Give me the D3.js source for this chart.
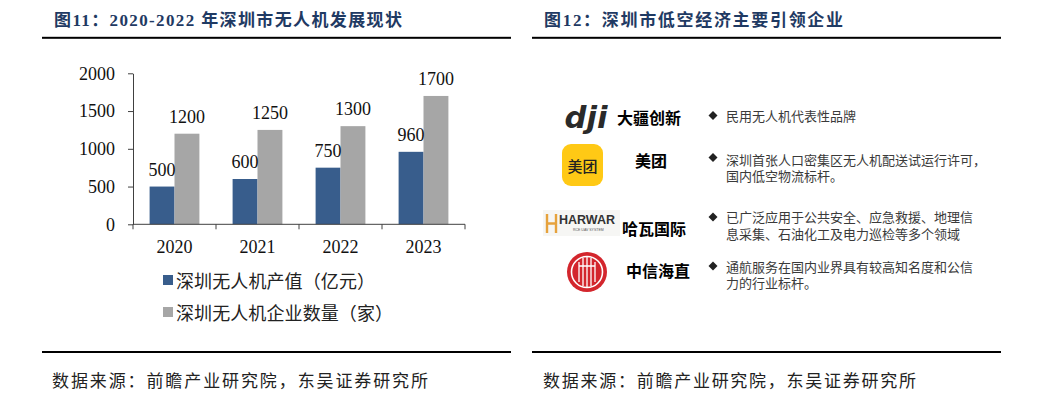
<!DOCTYPE html>
<html><head><meta charset="utf-8">
<script src="https://cdn.jsdelivr.net/npm/d3@7"></script>
<style>
html,body{margin:0;padding:0;background:#fff;}
svg{display:block;}
</style></head>
<body>
<svg id="c" width="1038" height="399"></svg>
<script>
// ---------- data ----------
const years = ["2020", "2021", "2022", "2023"];
const seriesNames = ["深圳无人机产值（亿元）", "深圳无人机企业数量（家）"];
const outputValue = [500, 600, 750, 960];        // 亿元
const enterpriseCount = [1200, 1250, 1300, 1700]; // 家
const yTicks = [0, 500, 1000, 1500, 2000];

const leftTitle = "图11：2020-2022 年深圳市无人机发展现状";
const rightTitle = "图12：深圳市低空经济主要引领企业";
const sourceText = "数据来源：前瞻产业研究院，东吴证券研究所";

const companies = ["大疆创新", "美团", "哈瓦国际", "中信海直"];
const descriptions = [
  ["民用无人机代表性品牌"],
  ["深圳首张人口密集区无人机配送试运行许可，", "国内低空物流标杆。"],
  ["已广泛应用于公共安全、应急救援、地理信", "息采集、石油化工及电力巡检等多个领域"],
  ["通航服务在国内业界具有较高知名度和公信", "力的行业标杆。"]
];

// ---------- setup ----------
const svg = d3.select("#c");
const serif = "'Liberation Serif','Times New Roman','Noto Sans CJK SC',serif";
const cjk = "'Noto Sans CJK SC','Noto Sans',sans-serif";
const titleColor = "#1f3a63";
const colors = ["#385d8c", "#a6a6a6"];

// ---------- panel frames ----------
function panel(x0, x1, title, titleX, titleLen, srcX, srcLen) {
  svg.append("text").attr("x", titleX).attr("y", 26)
    .attr("font-family", serif).attr("font-weight", "bold").attr("font-size", 17)
    .attr("fill", titleColor).attr("textLength", titleLen).attr("lengthAdjust", "spacing")
    .text(title);
  svg.append("rect").attr("x", x0).attr("y", 36.8).attr("width", x1 - x0).attr("height", 2).attr("fill", "#000");
  svg.append("rect").attr("x", x0).attr("y", 351).attr("width", x1 - x0).attr("height", 2).attr("fill", "#000");
  svg.append("text").attr("x", srcX).attr("y", 379).attr("dominant-baseline", "central")
    .attr("font-family", cjk).attr("font-size", 17).attr("fill", "#222")
    .attr("textLength", srcLen).attr("lengthAdjust", "spacing")
    .text(sourceText);
}
panel(42, 511, leftTitle, 54, 348, 52, 376);
panel(532, 1001, rightTitle, 544, 299, 543, 373);

// ---------- bar chart ----------
const x0 = d3.scaleBand().domain(years).range([133, 465]).paddingInner(0.4).paddingOuter(0.2);
const x1 = d3.scaleBand().domain([0, 1]).range([0, x0.bandwidth()]);
const y = d3.scaleLinear().domain([0, 2000]).range([224.3, 73.3]);

const rows = years.map((yr, i) => ({ year: yr, vals: [outputValue[i], enterpriseCount[i]] }));

const chart = svg.append("g");
const grp = chart.selectAll("g.yr").data(rows).join("g").attr("class", "yr")
  .attr("transform", d => `translate(${x0(d.year)},0)`);
grp.selectAll("rect").data(d => d.vals.map((v, k) => ({ v, k }))).join("rect")
  .attr("x", d => x1(d.k)).attr("width", x1.bandwidth())
  .attr("y", d => y(d.v)).attr("height", d => y(0) - y(d.v))
  .attr("fill", d => colors[d.k]);
grp.selectAll("text").data(d => d.vals.map((v, k) => ({ v, k }))).join("text")
  .attr("x", d => x1(d.k) + x1.bandwidth() / 2).attr("y", d => y(d.v) - 11)
  .attr("text-anchor", "middle").attr("font-family", serif).attr("font-size", 18).attr("fill", "#111")
  .text(d => d.v);

// y axis
const yAxis = d3.axisLeft(y).tickValues(yTicks).tickFormat(d3.format("d")).tickSize(5).tickSizeOuter(0).tickPadding(13);
const ya = chart.append("g").attr("transform", "translate(133,0)").call(yAxis);
ya.select(".domain").attr("stroke", "#404040");
ya.selectAll(".tick line").attr("stroke", "#404040");
ya.selectAll(".tick text").attr("font-family", serif).attr("font-size", 18).attr("fill", "#111");

// x axis (ticks at category boundaries)
const step = x0.step();
const r0 = x0.range()[0];
const boundaries = d3.range(years.length + 1).map(i => r0 + i * step);
chart.append("line").attr("x1", r0).attr("x2", x0.range()[1]).attr("y1", y(0)).attr("y2", y(0)).attr("stroke", "#404040");
chart.selectAll("line.xt").data(boundaries).join("line").attr("class", "xt")
  .attr("x1", d => d).attr("x2", d => d).attr("y1", y(0)).attr("y2", y(0) + 5).attr("stroke", "#404040");
chart.selectAll("text.xl").data(years).join("text").attr("class", "xl")
  .attr("x", d => x0(d) + x0.bandwidth() / 2).attr("y", 253)
  .attr("text-anchor", "middle").attr("font-family", serif).attr("font-size", 18).attr("fill", "#111")
  .text(d => d);

// legend
const legendLen = [199, 217];
const lg = chart.selectAll("g.lg").data(seriesNames).join("g").attr("class", "lg")
  .attr("transform", (d, i) => `translate(163,${280 + i * 32})`);
lg.append("rect").attr("x", 0).attr("y", -5).attr("width", 10).attr("height", 10).attr("fill", (d, i) => colors[i]);
lg.append("text").attr("x", 13).attr("y", 0).attr("dominant-baseline", "central")
  .attr("font-family", cjk).attr("font-size", 18).attr("fill", "#222")
  .attr("textLength", (d, i) => legendLen[i]).attr("lengthAdjust", "spacing").text(d => d);

// ---------- right panel: companies ----------
const nameY = [116.5, 160, 227.5, 269.5];
const nameX = [617, 635, 622, 626];
const bulletY = [115.5, 157.5, 217, 266];
const lineY = [[116], [160, 176], [217.5, 234], [267.5, 283]];

const rp = svg.append("g");
companies.forEach((c, i) => {
  rp.append("text").attr("x", nameX[i]).attr("y", nameY[i]).attr("dominant-baseline", "central")
    .attr("font-family", cjk).attr("font-weight", "bold").attr("font-size", 16).attr("fill", "#000").text(c);
  rp.append("path").attr("d", "M0,-4.5L4.5,0L0,4.5L-4.5,0Z").attr("transform", `translate(713,${bulletY[i]})`).attr("fill", "#222");
  const t = rp.append("text").attr("font-family", cjk).attr("font-size", 13).attr("fill", "#3a3a3a");
  descriptions[i].forEach((s, j) => {
    t.append("tspan").attr("x", 726).attr("y", lineY[i][j] + 4.6).text(s);
  });
});

// logos
// dji
rp.append("text").attr("x", 586).attr("y", 117).attr("dominant-baseline", "central").attr("text-anchor", "middle")
  .attr("font-family", "'DejaVu Sans',sans-serif").attr("font-weight", "bold").attr("font-style", "italic")
  .attr("font-size", 30).attr("fill", "#2a2a2a").attr("textLength", 43).attr("lengthAdjust", "spacingAndGlyphs").text("dji");
// meituan
rp.append("rect").attr("x", 562).attr("y", 144).attr("width", 41).attr("height", 42).attr("rx", 9).attr("fill", "#ffc915");
rp.append("text").attr("x", 582.5).attr("y", 165.5).attr("dominant-baseline", "central").attr("text-anchor", "middle")
  .attr("font-family", cjk).attr("font-weight", "500").attr("font-size", 15).attr("fill", "#222").text("美团");
// harwar
rp.append("rect").attr("x", 543).attr("y", 210).attr("width", 77).attr("height", 26).attr("fill", "#f6f6f4");
rp.append("path").attr("d", "M547,214 L547,233 M556,214 L556,233 M547,223.5 L556,223.5")
  .attr("stroke", "#e6a23c").attr("stroke-width", 2.4).attr("fill", "none");
rp.append("text").attr("x", 559).attr("y", 224).attr("font-family", "'Liberation Sans',Arial,sans-serif")
  .attr("font-weight", "bold").attr("font-size", 12.5).attr("fill", "#333").attr("textLength", 56).attr("lengthAdjust", "spacingAndGlyphs").text("HARWAR");
rp.append("text").attr("x", 573).attr("y", 231).attr("font-family", "'Liberation Sans',Arial,sans-serif")
  .attr("font-size", 3.5).attr("fill", "#555").text("RCE UAV SYSTEM");
// citic
rp.append("circle").attr("cx", 587).attr("cy", 272).attr("r", 20).attr("fill", "#d3262d");
rp.append("circle").attr("cx", 587).attr("cy", 272).attr("r", 15.5).attr("fill", "none").attr("stroke", "#fff").attr("stroke-width", 1.6);
rp.append("path").attr("d", "M579,262 L579,282 M583,258 L583,286 M587,257 L587,287 M591,258 L591,286 M595,262 L595,282 M579,266 L595,266")
  .attr("stroke", "#fff").attr("stroke-width", 1.3).attr("fill", "none");
</script>
</body></html>
